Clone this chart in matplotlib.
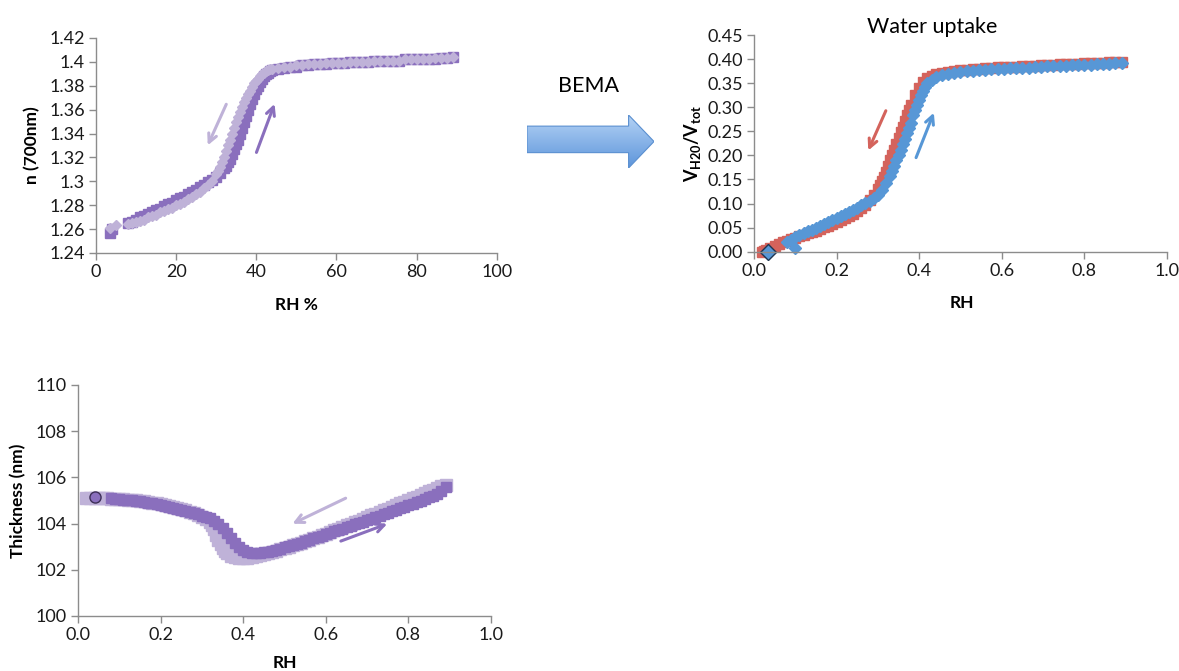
import numpy as np
import matplotlib
matplotlib.use('Agg')
import matplotlib.pyplot as plt
from matplotlib.patches import Polygon

plt.rcParams['font.family'] = ['Lato', 'DejaVu Sans']
plt.rcParams['mathtext.fontset'] = 'custom'
plt.rcParams['mathtext.rm'] = 'Lato'
plt.rcParams['mathtext.bf'] = 'Lato:bold'

# --------------------------------------------------------------------------------------------
# refractive index vs RH (%)
n_ads_rh = [3.5, 4, 8, 9, 10, 11, 12, 13, 14, 15, 16, 17, 18, 19, 20, 21, 22, 23, 24, 25, 26, 27,
            28, 29, 30, 31,
            32, 32.5, 33, 33.5, 34, 34.5, 35, 35.5, 36, 36.5, 37, 37.5, 38, 38.5, 39, 39.5, 40,
            40.5, 41, 41.5, 42, 42.5, 43, 43.5,
            44, 45.5, 47, 48.5, 50, 51.5, 53, 54.5, 56, 57.5, 59, 60.5, 62, 63.5, 65, 66.5, 68,
            69.5, 71, 72.5, 74, 75.5, 77, 78.5, 80, 81.5, 83, 84.5, 86, 87.5, 89]
n_ads = [1.257, 1.260, 1.265, 1.266, 1.268, 1.270, 1.271, 1.273, 1.274, 1.276, 1.277, 1.279,
         1.281, 1.282, 1.284, 1.286, 1.287, 1.289, 1.291, 1.293, 1.295, 1.297, 1.299, 1.301,
         1.304, 1.307,
         1.311, 1.313, 1.316, 1.319, 1.323, 1.327, 1.331, 1.335, 1.340, 1.345, 1.350, 1.355,
         1.360, 1.365, 1.369, 1.373, 1.377, 1.380, 1.383, 1.386, 1.388, 1.390, 1.391, 1.392,
         1.393, 1.394, 1.395, 1.396, 1.396, 1.397, 1.397, 1.398, 1.398, 1.398, 1.399, 1.399,
         1.399, 1.400, 1.400, 1.400, 1.400, 1.401, 1.401, 1.401, 1.401, 1.401, 1.402, 1.402,
         1.402, 1.402, 1.402, 1.402, 1.403, 1.403, 1.404]
n_des_rh = [89, 87.5, 86, 84.5, 83, 81.5, 80, 78.5, 77, 75.5, 74, 72.5, 71, 69.5, 68, 66.5, 65,
            63.5, 62, 60.5, 59, 57.5, 56, 54.5, 53, 51.5, 50, 48.5, 47, 45.5, 44,
            43.5, 43, 42.5, 42, 41.5, 41, 40.5, 40, 39.5, 39, 38.5, 38, 37.5, 37, 36.5, 36, 35.5,
            35, 34.5, 34, 33.5, 33, 32.5, 32, 31.5, 31, 30.5, 30,
            29, 28, 27, 26, 25, 24, 23, 22, 21, 20, 19, 18, 17, 16, 15, 14, 13, 12, 11, 10, 9,
            8, 5, 3.5]
n_des = [1.404, 1.403, 1.403, 1.403, 1.402, 1.402, 1.402, 1.402, 1.402, 1.401, 1.401, 1.401,
         1.401, 1.401, 1.400, 1.400, 1.400, 1.400, 1.399, 1.399, 1.399, 1.399, 1.398, 1.398,
         1.398, 1.397, 1.397, 1.396, 1.396, 1.395, 1.394,
         1.394, 1.393, 1.392, 1.391, 1.390, 1.388, 1.386, 1.384, 1.382, 1.379, 1.376, 1.373,
         1.370, 1.366, 1.362, 1.358, 1.354, 1.350, 1.345, 1.340, 1.335, 1.330, 1.325, 1.320,
         1.316, 1.312, 1.309, 1.306,
         1.300, 1.297, 1.294, 1.291, 1.289, 1.287, 1.285, 1.283, 1.281, 1.280, 1.278, 1.277,
         1.275, 1.274, 1.272, 1.271, 1.270, 1.268, 1.267, 1.266, 1.265, 1.264, 1.263, 1.261]

# water volume fraction vs RH
w_ads_rh = [0.08, 0.09, 0.10, 0.11, 0.12, 0.13, 0.14, 0.15, 0.16, 0.17, 0.18, 0.19, 0.20, 0.21,
            0.22, 0.23, 0.24, 0.25, 0.26, 0.27, 0.28, 0.29,
            0.30, 0.31, 0.32, 0.33, 0.335, 0.34, 0.345, 0.35, 0.355, 0.36, 0.365, 0.37, 0.375,
            0.38, 0.385, 0.39, 0.395, 0.40, 0.405, 0.41, 0.415, 0.42, 0.43,
            0.44, 0.455, 0.47, 0.485, 0.50, 0.515, 0.53, 0.545, 0.56, 0.575, 0.59, 0.605, 0.62,
            0.635, 0.65, 0.665, 0.68, 0.695, 0.71, 0.725, 0.74, 0.755, 0.77, 0.785, 0.80, 0.815,
            0.83, 0.845, 0.86, 0.875, 0.89]
w_ads = [0.020, 0.025, 0.030, 0.034, 0.038, 0.042, 0.046, 0.050, 0.054, 0.058, 0.062, 0.066,
         0.070, 0.074, 0.078, 0.082, 0.086, 0.091, 0.096, 0.101, 0.106, 0.111,
         0.118, 0.128, 0.142, 0.158, 0.168, 0.178, 0.190, 0.201, 0.212, 0.223, 0.235, 0.246,
         0.257, 0.268, 0.283, 0.294, 0.305, 0.315, 0.325, 0.334, 0.343, 0.350, 0.357,
         0.362, 0.366, 0.369, 0.371, 0.373, 0.375, 0.376, 0.377, 0.378, 0.379, 0.380, 0.380,
         0.381, 0.381, 0.382, 0.382, 0.383, 0.384, 0.385, 0.385, 0.386, 0.386, 0.387, 0.387,
         0.388, 0.388, 0.389, 0.389, 0.390, 0.391, 0.392]
w_ads_first_rh = [0.035, 0.10]
w_ads_first = [0.0, 0.008]
w_des_rh = [0.89, 0.875, 0.86, 0.845, 0.83, 0.815, 0.80, 0.785, 0.77, 0.755, 0.74, 0.725, 0.71,
            0.695, 0.68, 0.665, 0.65, 0.635, 0.62, 0.605, 0.59, 0.575, 0.56, 0.545, 0.53, 0.515,
            0.50, 0.485, 0.47, 0.455, 0.44,
            0.43, 0.42, 0.41, 0.40, 0.39, 0.38, 0.375, 0.37, 0.365, 0.36, 0.355, 0.35, 0.345,
            0.34, 0.335, 0.33, 0.325, 0.32, 0.315, 0.31, 0.305, 0.30, 0.29, 0.28,
            0.27, 0.26, 0.25, 0.24, 0.23, 0.22, 0.21, 0.20, 0.19, 0.18, 0.17, 0.16, 0.15, 0.14,
            0.13, 0.12, 0.11, 0.10, 0.09, 0.08, 0.07, 0.06, 0.05, 0.04, 0.03, 0.025, 0.02]
w_des = [0.395, 0.394, 0.393, 0.392, 0.392, 0.391, 0.391, 0.390, 0.390, 0.389, 0.389, 0.388,
         0.388, 0.387, 0.386, 0.385, 0.385, 0.384, 0.384, 0.383, 0.383, 0.382, 0.381, 0.380,
         0.379, 0.378, 0.377, 0.376, 0.374, 0.372, 0.369,
         0.365, 0.360, 0.352, 0.340, 0.325, 0.305, 0.295, 0.283, 0.272, 0.260, 0.248, 0.236,
         0.224, 0.212, 0.200, 0.190, 0.178, 0.166, 0.155, 0.146, 0.138, 0.131, 0.118, 0.107,
         0.098, 0.091, 0.085, 0.079, 0.074, 0.069, 0.065, 0.061, 0.057, 0.054, 0.051, 0.047,
         0.044, 0.041, 0.038, 0.035, 0.032, 0.029, 0.026, 0.023, 0.020, 0.016, 0.012, 0.008,
         0.004, 0.001, 0.0]

# thickness vs RH
t_ads_rh = [0.08, 0.09, 0.10, 0.11, 0.12, 0.13, 0.14, 0.15, 0.16, 0.17, 0.18, 0.19, 0.20, 0.21,
            0.22, 0.23, 0.24, 0.25, 0.26, 0.27, 0.28, 0.29, 0.30, 0.31, 0.32, 0.33, 0.34, 0.35,
            0.36, 0.37, 0.38, 0.39, 0.40, 0.41, 0.42, 0.43, 0.44, 0.45, 0.46, 0.47, 0.48, 0.49,
            0.50, 0.51, 0.52, 0.53, 0.54, 0.55, 0.56, 0.57, 0.58, 0.59, 0.60, 0.61, 0.62, 0.63,
            0.64, 0.65, 0.66, 0.67, 0.68, 0.69, 0.70, 0.71, 0.72, 0.73, 0.74, 0.75, 0.76, 0.77,
            0.78, 0.79, 0.80, 0.81, 0.82, 0.83, 0.84, 0.85, 0.86, 0.87, 0.88, 0.89]
t_ads = [105.10, 105.08, 105.06, 105.04, 105.02, 105.00, 104.98, 104.96, 104.93, 104.90,
         104.87, 104.84, 104.80, 104.76, 104.72, 104.68, 104.64, 104.60, 104.55, 104.50,
         104.45, 104.40, 104.34, 104.28, 104.22, 104.13, 104.00, 103.82, 103.60, 103.38,
         103.17, 103.00, 102.86, 102.78, 102.73, 102.71, 102.72, 102.75, 102.79, 102.83,
         102.87, 102.92,
         102.97, 103.02, 103.07, 103.12, 103.18, 103.24, 103.30, 103.36, 103.42, 103.48,
         103.54, 103.60, 103.66, 103.72, 103.78, 103.84, 103.90, 103.96, 104.02, 104.08,
         104.14, 104.20, 104.27, 104.33, 104.40, 104.46, 104.53, 104.59, 104.66, 104.73,
         104.80, 104.86, 104.93, 104.99, 105.06, 105.13, 105.20, 105.28, 105.40, 105.58]
t_ads_first_rh = [0.04]
t_ads_first = [105.15]
t_des_rh = [0.89, 0.88, 0.87, 0.86, 0.85, 0.84, 0.83, 0.82, 0.81, 0.80, 0.79, 0.78, 0.77, 0.76,
            0.75, 0.74, 0.73, 0.72, 0.71, 0.70, 0.69, 0.68, 0.67, 0.66, 0.65, 0.64, 0.63, 0.62,
            0.61, 0.60, 0.59, 0.58, 0.57, 0.56, 0.55, 0.54, 0.53, 0.52, 0.51, 0.50, 0.49, 0.48,
            0.47, 0.46, 0.45, 0.44, 0.43, 0.42, 0.41, 0.40, 0.39, 0.38, 0.37, 0.36, 0.355, 0.35,
            0.345, 0.34, 0.335, 0.33, 0.325, 0.32, 0.31, 0.30, 0.29, 0.28, 0.27, 0.26, 0.25,
            0.24, 0.23, 0.22, 0.21, 0.20, 0.19, 0.18, 0.17, 0.16, 0.15, 0.14, 0.13, 0.12, 0.11,
            0.10, 0.09, 0.08, 0.07, 0.06, 0.05, 0.04, 0.03, 0.02]
t_des = [105.68, 105.62, 105.55, 105.47, 105.40, 105.32, 105.25, 105.17, 105.10, 105.02,
         104.95, 104.87, 104.80, 104.72, 104.65, 104.57, 104.50, 104.42, 104.35, 104.27,
         104.20, 104.13, 104.06, 103.99, 103.92, 103.85, 103.78, 103.71, 103.64, 103.57,
         103.50, 103.43, 103.37, 103.30, 103.24, 103.18, 103.12, 103.06, 103.00, 102.94,
         102.88, 102.83, 102.78, 102.73, 102.68, 102.64, 102.60, 102.56, 102.53, 102.52,
         102.52, 102.55, 102.60, 102.72, 102.82, 102.95, 103.10, 103.30, 103.50, 103.75,
         103.92, 104.05, 104.20, 104.30, 104.38, 104.45, 104.51, 104.57, 104.62, 104.67,
         104.72, 104.76, 104.80, 104.84, 104.87, 104.90, 104.93, 104.96, 104.98, 105.00,
         105.02, 105.04, 105.05, 105.07, 105.08, 105.08, 105.09, 105.10, 105.10, 105.10,
         105.10, 105.10]
# --------------------------------------------------------------------------------------------

dark_purple = '#8a6fbd'
light_purple = '#bfb2d8'
red = '#d4635c'
blue = '#5797d6'
grey = '#8c8c8c'

fig = plt.figure(figsize=(11.79, 6.71), dpi=100)


def excel_axes(ax):
    for s in ['top', 'right']:
        ax.spines[s].set_visible(False)
    for s in ['left', 'bottom']:
        ax.spines[s].set_color(grey)
        ax.spines[s].set_linewidth(1.0)
    ax.tick_params(direction='out', length=5, width=1, color=grey,
                   labelsize=13, labelcolor='#1a1a1a', pad=3)


def arrow(ax, start, end, color):
    ax.annotate('', xy=end, xytext=start,
                arrowprops=dict(arrowstyle='->,head_length=0.6,head_width=0.3',
                                color=color, lw=2.2))


lab = dict(fontsize=12.5, fontweight='bold', va='center')

# refractive index
ax1 = fig.add_axes([0.0814, 0.6230, 0.3399, 0.3204])
ax1.plot(n_ads_rh, n_ads, 's', color=dark_purple, ms=7.5, mec=dark_purple, clip_on=False)
ax1.plot(n_des_rh, n_des, 'D', color=light_purple, ms=5.5, mec=light_purple, clip_on=False)
ax1.set_xlim(0, 100)
ax1.set_ylim(1.24, 1.42)
ax1.set_xticks(range(0, 101, 20))
yt = np.round(np.arange(1.24, 1.4201, 0.02), 2)
ax1.set_yticks(yt)
ax1.set_yticklabels(['{:g}'.format(v) for v in yt])
ax1.set_xlabel('RH %', **lab)
ax1.set_ylabel('n (700nm)', **lab)
ax1.xaxis.set_label_coords(0.5, -0.242)
ax1.yaxis.set_label_coords(-0.159, 0.5)
excel_axes(ax1)
arrow(ax1, (32.8, 1.3666), (27.6, 1.328), light_purple)
arrow(ax1, (39.8, 1.322), (44.8, 1.367), dark_purple)

# water uptake
ax2 = fig.add_axes([0.6395, 0.6249, 0.3503, 0.3229])
ax2.plot(w_des_rh, w_des, 's', color=red, ms=7.5, mec=red, clip_on=False)
ax2.plot(w_ads_rh, w_ads, 'D', color=blue, ms=6, mec=blue, clip_on=False)
ax2.plot(w_ads_first_rh[1:], w_ads_first[1:], 'D', color=blue, ms=6, mec=blue, clip_on=False)
ax2.plot(w_ads_first_rh[:1], w_ads_first[:1], 'D', color=blue, ms=8, mec='#1f3550', mew=1,
         clip_on=False)
ax2.set_xlim(0, 1.0)
ax2.set_ylim(0, 0.45)
xt = np.arange(0, 1.01, 0.2)
ax2.set_xticks(xt)
ax2.set_xticklabels(['{:.1f}'.format(v) for v in xt])
ax2.set_yticks(np.arange(0, 0.451, 0.05))
ax2.set_yticklabels(['{:.2f}'.format(v) for v in np.arange(0, 0.451, 0.05)])
ax2.set_xlabel('RH', **lab)
ax2.set_ylabel(r'$\mathbf{V}_{\mathbf{H20}}\mathbf{/V}_{\mathbf{tot}}$', fontsize=13, va='center')
ax2.xaxis.set_label_coords(0.504, -0.237)
ax2.yaxis.set_label_coords(-0.150, 0.5)
excel_axes(ax2)
arrow(ax2, (0.322, 0.298), (0.274, 0.205), red)
arrow(ax2, (0.39, 0.19), (0.438, 0.294), blue)
fig.text(932 / 1179, 1 - 27 / 671, 'Water uptake', fontsize=15.5, ha='center', va='center')

# thickness
ax3 = fig.add_axes([0.0662, 0.0820, 0.3503, 0.3443])
ax3.plot(t_des_rh, t_des, 's', color=light_purple, ms=9, mec=light_purple)
ax3.plot(t_ads_rh, t_ads, 's', color=dark_purple, ms=6.5, mec=dark_purple)
ax3.plot(t_ads_first_rh, t_ads_first, 'o', color=dark_purple, ms=8, mec='#3d2f57', mew=1)
ax3.set_xlim(0, 1.0)
ax3.set_ylim(100, 110)
ax3.set_xticks(xt)
ax3.set_xticklabels(['{:.1f}'.format(v) for v in xt])
ax3.set_yticks(range(100, 111, 2))
ax3.set_xlabel('RH', **lab)
ax3.set_ylabel('Thickness (nm)', **lab)
ax3.xaxis.set_label_coords(0.50, -0.203)
ax3.yaxis.set_label_coords(-0.145, 0.5)
excel_axes(ax3)
arrow(ax3, (0.654, 105.15), (0.513, 103.94), light_purple)
arrow(ax3, (0.63, 103.2), (0.755, 104.03), dark_purple)

# BEMA block arrow
fig.text(588 / 1179, 1 - 86 / 671, 'BEMA', fontsize=15.5, ha='center', va='center')
bax = fig.add_axes([527 / 1179, 1 - 168 / 671, 127 / 1179, 53 / 671])
bax.set_xlim(0, 1)
bax.set_ylim(0, 1)
bax.axis('off')
shape = [(0, 0.29), (0.80, 0.29), (0.80, 0.0), (1.0, 0.5), (0.80, 1.0), (0.80, 0.79), (0, 0.79)]
poly = Polygon(shape, closed=True, facecolor='none', edgecolor='#5a8fd0', lw=0.8)
bax.add_patch(poly)
grad = np.linspace(0, 1, 100).reshape(-1, 1)
img = bax.imshow(grad, extent=[0, 1, 0, 1], origin='lower', aspect='auto',
                 cmap=matplotlib.colors.LinearSegmentedColormap.from_list('b', ['#5d95db', '#b5d3f5']))
img.set_clip_path(poly)

fig.savefig('out.png', dpi=100)
